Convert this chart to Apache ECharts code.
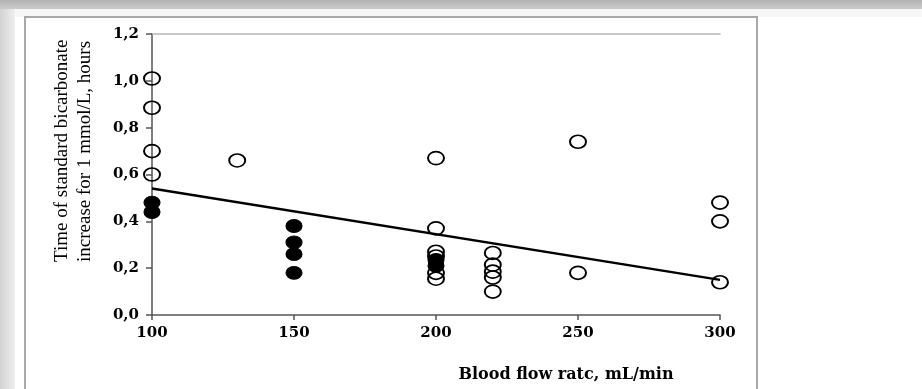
<!DOCTYPE html>
<html>
<head>
<meta charset="utf-8">
<script src="https://cdn.jsdelivr.net/npm/echarts@6/dist/echarts.min.js"></script>
<style>
  html, body { margin: 0; padding: 0; background: #fff; }
  #chart { width: 922px; height: 389px; }
</style>
</head>
<body>
<div id="chart"></div>
<script>
// open circles
const openX = [100, 100, 100, 100, 130, 200, 200, 200, 200, 200, 200, 220, 220, 220, 220, 220, 250, 250, 300, 300, 300];
const openY = [1.01, 0.885, 0.70, 0.60, 0.66, 0.67, 0.37, 0.27, 0.25, 0.18, 0.155, 0.265, 0.215, 0.185, 0.16, 0.10, 0.74, 0.18, 0.48, 0.40, 0.14];
// filled circles
const filledX = [100, 100, 150, 150, 150, 150, 200, 200];
const filledY = [0.48, 0.44, 0.38, 0.31, 0.26, 0.18, 0.235, 0.21];
// regression line
const trendX = [100, 300];
const trendY = [0.54, 0.15];

const xTitle = 'Blood flow ratc, mL/min';
const yTitle = 'Time of standard bicarbonate\nincrease for 1 mmol/L, hours';

function pairs(xs, ys) {
    return xs.map(function (x, i) { return [x, ys[i]]; });
}

let chart = echarts.init(document.getElementById('chart'));
let labelFont = { color: '#000', fontFamily: 'DejaVu Serif', fontWeight: 'bold', fontSize: 15 };

let option = {
    animation: false,
    graphic: [
        { type: 'rect', z: -10, shape: { x: 0, y: 0, width: 922, height: 389 }, style: { fill: '#fff' } },
        { type: 'rect', z: -9, shape: { x: 0, y: 0, width: 922, height: 9 },
          style: { fill: new echarts.graphic.LinearGradient(0, 0, 0, 1, [
              { offset: 0, color: '#b3b3b3' }, { offset: 1, color: '#cbcbcb' }]) } },
        { type: 'rect', z: -9, shape: { x: 0, y: 9, width: 15, height: 380 },
          style: { fill: new echarts.graphic.LinearGradient(0, 0, 1, 0, [
              { offset: 0, color: '#d2d2d2' }, { offset: 1, color: '#efefef' }]) } },
        { type: 'rect', z: -9, shape: { x: 15, y: 9, width: 907, height: 8 }, style: { fill: '#f7f7f7' } },
        { type: 'rect', z: -8, shape: { x: 25, y: 17, width: 732, height: 390 },
          style: { fill: '#fff', stroke: '#a9a9a9', lineWidth: 2 } },
        { type: 'text', x: 74, y: 262, rotation: Math.PI / 2,
          style: { text: yTitle, align: 'left', verticalAlign: 'middle', fill: '#000',
                   font: '19px "Liberation Serif"', lineHeight: 23 } },
        { type: 'text', x: 566, y: 375,
          style: { text: xTitle, align: 'center', verticalAlign: 'middle', fill: '#000',
                   font: 'bold 16px "DejaVu Serif"' } }
    ],
    grid: { left: 152, right: 202, top: 34, bottom: 74 },
    xAxis: [ {
        type: 'value', min: 100, max: 300, interval: 50,
        axisLine: { show: true, lineStyle: { color: '#555', width: 1.5 } },
        axisTick: { show: true, length: 5, lineStyle: { color: '#555', width: 1.5 } },
        axisLabel: Object.assign({ margin: 11 }, labelFont),
        splitLine: { show: false }
    }, {
        type: 'value', position: 'top', min: 100, max: 300, interval: 50,
        axisLine: { show: true, lineStyle: { color: '#b5b5b5', width: 1.5 } },
        axisTick: { show: false }, axisLabel: { show: false }, splitLine: { show: false }
    } ],
    yAxis: {
        type: 'value', min: 0, max: 1.2, interval: 0.2,
        axisLine: { show: true, lineStyle: { color: '#555', width: 1.5 } },
        axisTick: { show: true, length: 6, lineStyle: { color: '#555', width: 1.5 } },
        axisLabel: Object.assign({
            margin: 13,
            formatter: function (v) { return v.toFixed(1).replace('.', ','); }
        }, labelFont),
        splitLine: { show: false }
    },
    series: [ {
        type: 'line',
        data: pairs(trendX, trendY),
        symbol: 'none',
        lineStyle: { color: '#000', width: 2.5 },
        z: 3
    }, {
        type: 'scatter',
        data: pairs(filledX, filledY),
        symbol: 'circle',
        symbolSize: [16, 13],
        itemStyle: { color: '#000', borderColor: '#000', borderWidth: 1, opacity: 1 },
        z: 4
    }, {
        type: 'scatter',
        data: pairs(openX, openY),
        symbol: 'circle',
        symbolSize: [16, 13],
        itemStyle: { color: 'rgba(0,0,0,0)', borderColor: '#000', borderWidth: 1.8, opacity: 1 },
        z: 5
    } ]
};
chart.setOption(option);
</script>
</body>
</html>
